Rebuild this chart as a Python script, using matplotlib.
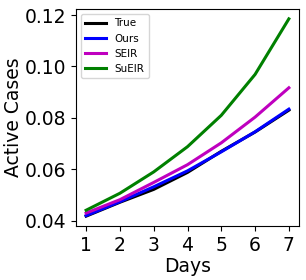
import matplotlib
matplotlib.use("Agg")
import matplotlib.pyplot as plt

days = [1, 2, 3, 4, 5, 6, 7]
true_vals = [0.0418, 0.0472, 0.0522, 0.0588, 0.0670, 0.0745, 0.0830]
ours_vals = [0.0420, 0.0474, 0.0532, 0.0594, 0.0668, 0.0746, 0.0834]
seir_vals = [0.0430, 0.0482, 0.0549, 0.0618, 0.0703, 0.0803, 0.0917]
sueir_vals = [0.0441, 0.0507, 0.0590, 0.0688, 0.0810, 0.0969, 0.1185]

fig = plt.figure(figsize=(3.06, 2.8), dpi=100)
ax = fig.add_axes([76/306, 1 - 226/280, 223/306, 217/280])
ax.plot(days, true_vals, color='k', lw=2.2, label='True')
ax.plot(days, ours_vals, color='b', lw=2.2, label='Ours')
ax.plot(days, seir_vals, color='m', lw=2.2, label='SEIR')
ax.plot(days, sueir_vals, color='g', lw=2.2, label='SuEIR')
ax.set_yticks([0.04, 0.06, 0.08, 0.10, 0.12])
ax.set_xticks(days)
ax.tick_params(labelsize=13.5)
ax.set_xlabel('Days', fontsize=13.5, labelpad=2)
ax.set_ylabel('Active Cases', fontsize=13.5, labelpad=1)
ax.legend(loc='upper left', fontsize=7.5)
fig.savefig('out.png', dpi=100)
